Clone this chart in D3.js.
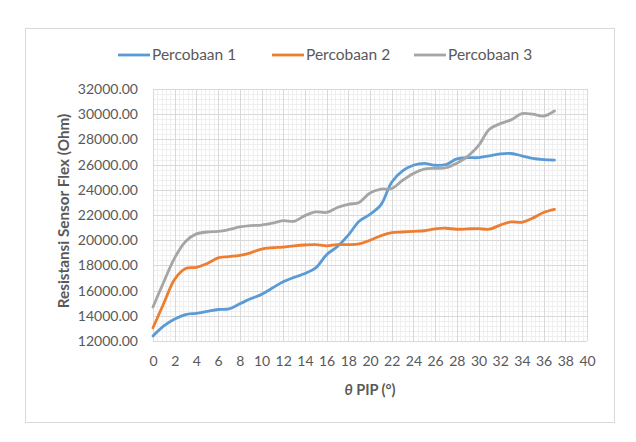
<!DOCTYPE html>
<html lang="en">
<head>
<meta charset="UTF-8">
<title>Resistansi Sensor Flex</title>
<style>
  body { margin: 0; background: #fff; }
  text { font-family: Lato, "Open Sans", sans-serif; }
</style>
</head>
<body>
<svg id="chart" width="636" height="442"></svg>
<script src="https://d3js.org/d3.v7.min.js"></script>
<script>
// sudut PIP (derajat)
var sudut = d3.range(0, 38);

var percobaan1 = [12400, 13200, 13750, 14100, 14200, 14350, 14500, 14550, 14950, 15350,
  15700, 16200, 16700, 17050, 17350, 17800, 18850, 19500, 20400, 21500,
  22050, 22800, 24600, 25500, 25950, 26100, 25950, 26000, 26450, 26550,
  26550, 26700, 26850, 26880, 26700, 26500, 26400, 26350];

var percobaan2 = [13050, 15000, 16900, 17750, 17850, 18150, 18600, 18700, 18800, 19000,
  19300, 19400, 19450, 19550, 19620, 19650, 19550, 19650, 19650, 19700,
  20000, 20350, 20600, 20650, 20700, 20750, 20900, 20950, 20870, 20900,
  20920, 20870, 21200, 21450, 21420, 21750, 22200, 22450];

var percobaan3 = [14700, 16700, 18600, 19900, 20500, 20650, 20700, 20850, 21050, 21150,
  21200, 21350, 21550, 21500, 21950, 22250, 22200, 22600, 22850, 23000,
  23750, 24050, 24100, 24750, 25300, 25650, 25700, 25750, 26100, 26650,
  27500, 28800, 29250, 29550, 30050, 30000, 29850, 30250];

var seriesNames = ["Percobaan 1", "Percobaan 2", "Percobaan 3"];
var seriesColors = ["#5B9BD5", "#ED7D31", "#A5A5A5"];
var xTicks = d3.range(0, 41, 2);
var yTicks = d3.range(12000, 32001, 2000);

var svg = d3.select("#chart");

// bingkai grafik
svg.append("rect")
  .attr("x", 25.5).attr("y", 28.5)
  .attr("width", 589).attr("height", 394)
  .attr("fill", "#fff")
  .attr("stroke", "#d9d9d9");

var x = d3.scaleLinear().domain([0, 40]).range([153, 587]);
var y = d3.scaleLinear().domain([12000, 32000]).range([341, 89]);

// grid minor
var grid = svg.append("g");
grid.selectAll(".vmin").data(d3.range(0, 40.01, 0.4))
  .enter().append("line")
  .attr("x1", d => Math.round(x(d)) + 0.5).attr("x2", d => Math.round(x(d)) + 0.5)
  .attr("y1", y(32000)).attr("y2", y(12000))
  .attr("stroke", "#efefef");
grid.selectAll(".hmin").data(d3.range(12000, 32001, 400))
  .enter().append("line")
  .attr("y1", d => Math.round(y(d)) + 0.5).attr("y2", d => Math.round(y(d)) + 0.5)
  .attr("x1", x(0)).attr("x2", x(40))
  .attr("stroke", "#efefef");

// grid mayor
grid.selectAll(".vmaj").data(xTicks)
  .enter().append("line")
  .attr("x1", d => Math.round(x(d)) + 0.5).attr("x2", d => Math.round(x(d)) + 0.5)
  .attr("y1", y(32000)).attr("y2", y(12000))
  .attr("stroke", "#d9d9d9");
grid.selectAll(".hmaj").data(yTicks)
  .enter().append("line")
  .attr("y1", d => Math.round(y(d)) + 0.5).attr("y2", d => Math.round(y(d)) + 0.5)
  .attr("x1", x(0)).attr("x2", x(40))
  .attr("stroke", "#d9d9d9");

// sumbu
var xAxis = svg.append("g")
  .attr("transform", "translate(0," + y(12000) + ")")
  .call(d3.axisBottom(x).tickValues(xTicks).tickSize(0).tickPadding(15));
var yAxis = svg.append("g")
  .attr("transform", "translate(" + x(0) + ",0)")
  .call(d3.axisLeft(y).tickValues(yTicks).tickSize(0).tickPadding(15)
    .tickFormat(d3.format(".2f")));
[xAxis, yAxis].forEach(function(a) {
  a.select(".domain").remove();
  a.selectAll("text")
    .style("font-family", "Lato, 'Open Sans', sans-serif")
    .style("font-size", "14px")
    .attr("fill", "#595959");
});

// garis data
var line = d3.line()
  .x((d, i) => x(sudut[i]))
  .y(d => y(d))
  .curve(d3.curveCatmullRom.alpha(0.5));

[percobaan1, percobaan2, percobaan3].forEach(function(s, i) {
  svg.append("path")
    .datum(s)
    .attr("d", line)
    .attr("fill", "none")
    .attr("stroke", seriesColors[i])
    .attr("stroke-width", 2.8)
    .attr("stroke-linecap", "round")
    .attr("stroke-linejoin", "round");
});

// legenda
var legendX = [118, 272, 414];
var legend = svg.selectAll(".legend").data(seriesNames)
  .enter().append("g")
  .attr("transform", (d, i) => "translate(" + legendX[i] + ",55)");
legend.append("line")
  .attr("x1", 0).attr("x2", 32)
  .attr("stroke", (d, i) => seriesColors[i])
  .attr("stroke-width", 2.8);
legend.append("text")
  .attr("x", 34).attr("y", 5)
  .attr("fill", "#595959")
  .style("font-size", "15.5px")
  .text(d => d);

// judul sumbu
svg.append("text")
  .attr("transform", "translate(69,211) rotate(-90)")
  .attr("text-anchor", "middle")
  .attr("fill", "#595959")
  .style("font-size", "15.3px")
  .style("font-weight", "bold")
  .text("Resistansi Sensor Flex (Ohm)");

var xt = svg.append("text")
  .attr("x", x(20)).attr("y", 395)
  .attr("text-anchor", "middle")
  .attr("fill", "#595959")
  .style("font-size", "14.5px")
  .style("font-weight", "bold");
xt.append("tspan").style("font-style", "italic").text("θ");
xt.append("tspan").text(" PIP (°)");
</script>
</body>
</html>
